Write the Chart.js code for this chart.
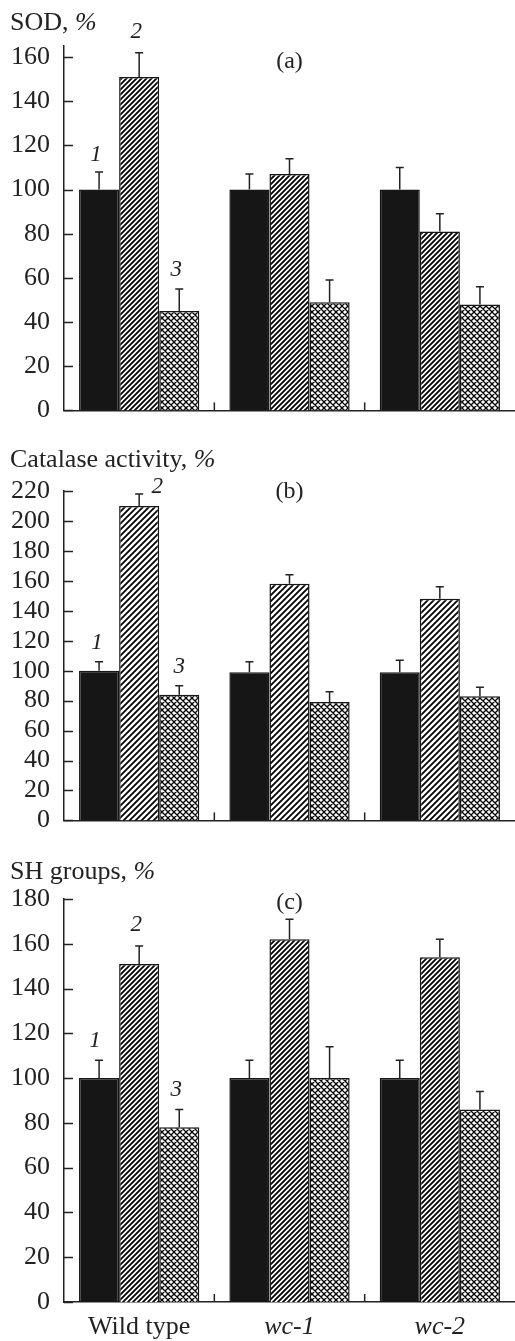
<!DOCTYPE html>
<html lang="en">
<head>
<meta charset="UTF-8">
<title>SOD, catalase and SH groups</title>
<script src="https://cdn.jsdelivr.net/npm/chart.js"></script>
<style>
  body { margin: 0; background: #fff; }
  .panel { position: absolute; left: 0; }
</style>
</head>
<body>
<canvas id="chartA" class="panel" width="515" height="440" style="top:0px"></canvas>
<canvas id="chartB" class="panel" width="515" height="410" style="top:440px"></canvas>
<canvas id="chartC" class="panel" width="515" height="491" style="top:850px"></canvas>
<script>
// strains on the x axis
const strains = ['Wild type', 'wc-1', 'wc-2'];

// (a) SOD, %
const sod1 = [100, 100, 100];
const sod2 = [151, 107, 81];
const sod3 = [45, 49, 48];
const sodErr1 = [8, 7, 10];
const sodErr2 = [11, 7, 8];
const sodErr3 = [10, 10, 8];

// (b) catalase activity, %
const cat1 = [100, 99, 99];
const cat2 = [210, 158, 148];
const cat3 = [84, 79, 83];
const catErr1 = [6, 7, 8];
const catErr2 = [8, 6, 8];
const catErr3 = [6, 7, 6];

// (c) SH groups, %
const sh1 = [100, 100, 100];
const sh2 = [151, 162, 154];
const sh3 = [78, 100, 86];
const shErr1 = [8, 8, 8];
const shErr2 = [8, 9, 8];
const shErr3 = [8, 14, 8];

const ink = '#222';
const serif = '"Liberation Serif", "DejaVu Serif", serif';

function hatch(s) {
    const c = document.createElement('canvas');
    c.width = c.height = s;
    const g = c.getContext('2d');
    g.fillStyle = '#fff';
    g.fillRect(0, 0, s, s);
    g.strokeStyle = '#000';
    g.lineWidth = 1.8;
    g.beginPath();
    g.moveTo(0, s); g.lineTo(s, 0);
    g.moveTo(-1, 1); g.lineTo(1, -1);
    g.moveTo(s - 1, s + 1); g.lineTo(s + 1, s - 1);
    g.stroke();
    return g.createPattern(c, 'repeat');
}

function crossHatch(s) {
    const c = document.createElement('canvas');
    c.width = c.height = s;
    const g = c.getContext('2d');
    g.fillStyle = '#fff';
    g.fillRect(0, 0, s, s);
    g.strokeStyle = '#000';
    g.lineWidth = 1.3;
    g.beginPath();
    g.moveTo(0, s); g.lineTo(s, 0);
    g.moveTo(-1, 1); g.lineTo(1, -1);
    g.moveTo(s - 1, s + 1); g.lineTo(s + 1, s - 1);
    g.moveTo(0, 0); g.lineTo(s, s);
    g.moveTo(-1, s - 1); g.lineTo(1, s + 1);
    g.moveTo(s - 1, -1); g.lineTo(s + 1, 1);
    g.stroke();
    return g.createPattern(c, 'repeat');
}

// error bars, inward ticks, group marks, titles and numbers
const decor = {
    id: 'decor',
    afterDatasetsDraw(chart, args, opts) {
        const ctx = chart.ctx;
        const { left, right, top, bottom } = chart.chartArea;
        const xs = chart.scales.x, ys = chart.scales.y;
        ctx.save();
        ctx.strokeStyle = ink;
        ctx.lineWidth = 1.5;
        const tops = [];
        chart.data.datasets.forEach((ds, di) => {
            tops[di] = [];
            chart.getDatasetMeta(di).data.forEach((bar, i) => {
                const yt = ys.getPixelForValue(ds.data[i] + ds.errors[i]);
                tops[di][i] = { x: bar.x, y: yt };
                ctx.beginPath();
                ctx.moveTo(bar.x, bar.y);
                ctx.lineTo(bar.x, yt);
                ctx.moveTo(bar.x - 4, yt);
                ctx.lineTo(bar.x + 4, yt);
                ctx.stroke();
            });
        });
        ys.ticks.forEach(t => {
            const py = Math.round(ys.getPixelForValue(t.value)) + 0.5;
            ctx.beginPath();
            ctx.moveTo(left, py);
            ctx.lineTo(left + 9, py);
            ctx.stroke();
        });
        for (let i = 1; i < strains.length; i++) {
            const px = (xs.getPixelForValue(i - 1) + xs.getPixelForValue(i)) / 2;
            ctx.beginPath();
            ctx.moveTo(px, bottom);
            ctx.lineTo(px, bottom - 8);
            ctx.stroke();
        }
        ctx.fillStyle = ink;
        // axis title with italic %
        ctx.textBaseline = 'alphabetic';
        ctx.textAlign = 'left';
        ctx.font = '26px ' + serif;
        ctx.fillText(opts.title, 10, opts.titleY);
        const w = ctx.measureText(opts.title).width;
        ctx.font = 'italic 26px ' + serif;
        ctx.fillText('%', 10 + w, opts.titleY);
        // panel letter
        ctx.font = '24px ' + serif;
        ctx.textAlign = 'center';
        ctx.textBaseline = 'middle';
        ctx.fillText(opts.letter, (left + right) / 2, top + opts.letterDy);
        // series numbers above the first group
        ctx.font = 'italic 23px ' + serif;
        opts.numbers.forEach((n, di) => {
            const p = tops[di][0];
            ctx.fillText(String(di + 1), p.x + n.dx, p.y + n.dy);
        });
        ctx.restore();
    }
};

function panel(id, values, errors, yMax, hatchSize, pad, xHeight, showX, deco) {
    const fills = ['#161616', hatch(hatchSize), crossHatch(6)];
    return new Chart(document.getElementById(id), {
        type: 'bar',
        data: {
            labels: strains,
            datasets: values.map((v, i) => ({
                data: v,
                errors: errors[i],
                backgroundColor: fills[i],
                borderColor: '#161616',
                borderWidth: 1.5,
                categoryPercentage: 0.8,
                barPercentage: 1.0
            }))
        },
        options: {
            responsive: false,
            animation: false,
            devicePixelRatio: 1,
            layout: { padding: pad },
            plugins: {
                legend: { display: false },
                tooltip: { enabled: false },
                decor: deco
            },
            scales: {
                x: {
                    grid: { display: false, drawTicks: false },
                    border: { display: true, color: ink, width: 1.5 },
                    ticks: {
                        display: showX,
                        padding: 10,
                        color: ink,
                        font: ctx => ({ family: serif, size: 26, style: ctx.index > 0 ? 'italic' : 'normal' })
                    },
                    afterFit: s => { s.height = xHeight; }
                },
                y: {
                    min: 0,
                    max: yMax,
                    grid: { display: false, drawTicks: false },
                    border: { display: true, color: ink, width: 1.5 },
                    ticks: {
                        stepSize: 20,
                        includeBounds: false,
                        autoSkip: false,
                        padding: 14,
                        color: ink,
                        font: { family: serif, size: 26 }
                    },
                    afterFit: s => { s.width = 64; }
                }
            }
        },
        plugins: [decor]
    });
}

panel('chartA', [sod1, sod2, sod3], [sodErr1, sodErr2, sodErr3], 165, 5,
    { top: 46, bottom: 16, left: 0, right: 0 }, 0, false,
    { title: 'SOD, ', titleY: 30, letter: '(a)', letterDy: 16,
      numbers: [{ dx: -3, dy: -17 }, { dx: -3, dy: -21 }, { dx: -3, dy: -19 }] });

panel('chartB', [cat1, cat2, cat3], [catErr1, catErr2, catErr3], 220, 6,
    { top: 51, bottom: 15, left: 0, right: 0 }, 0, false,
    { title: 'Catalase activity, ', titleY: 27, letter: '(b)', letterDy: 1,
      numbers: [{ dx: -2, dy: -19 }, { dx: 18, dy: -7 }, { dx: 0, dy: -19 }] });

panel('chartC', [sh1, sh2, sh3], [shErr1, shErr2, shErr3], 180, 5,
    { top: 49, bottom: 0, left: 0, right: 0 }, 39, true,
    { title: 'SH groups, ', titleY: 29, letter: '(c)', letterDy: 4,
      numbers: [{ dx: -4, dy: -19 }, { dx: -3, dy: -21 }, { dx: -3, dy: -20 }] });
</script>
</body>
</html>
